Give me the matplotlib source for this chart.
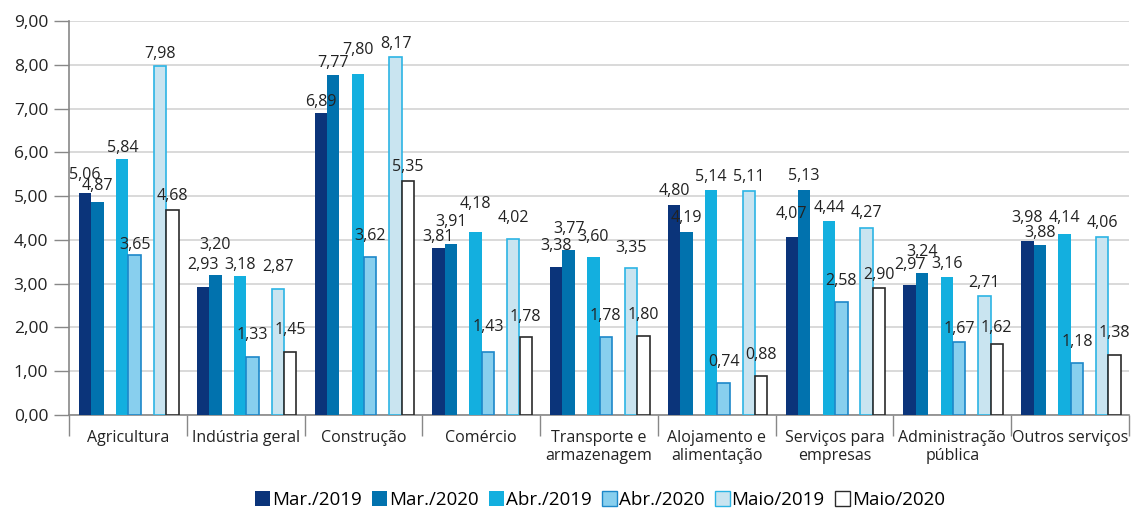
import numpy as np
import matplotlib
matplotlib.use("Agg")
import matplotlib.pyplot as plt
from matplotlib.patches import Patch

plt.rcParams['font.family'] = ['Open Sans', 'DejaVu Sans']

categories = ["Agricultura", "Indústria geral", "Construção", "Comércio",
              "Transporte e\narmazenagem", "Alojamento e\nalimentação",
              "Serviços para\nempresas", "Administração\npública", "Outros serviços"]
series = ["Mar./2019", "Mar./2020", "Abr./2019", "Abr./2020", "Maio/2019", "Maio/2020"]

mar_2019 = [5.06, 2.93, 6.89, 3.81, 3.38, 4.80, 4.07, 2.97, 3.98]
mar_2020 = [4.87, 3.20, 7.77, 3.91, 3.77, 4.19, 5.13, 3.24, 3.88]
abr_2019 = [5.84, 3.18, 7.80, 4.18, 3.60, 5.14, 4.44, 3.16, 4.14]
abr_2020 = [3.65, 1.33, 3.62, 1.43, 1.78, 0.74, 2.58, 1.67, 1.18]
maio_2019 = [7.98, 2.87, 8.17, 4.02, 3.35, 5.11, 4.27, 2.71, 4.06]
maio_2020 = [4.68, 1.45, 5.35, 1.78, 1.80, 0.88, 2.90, 1.62, 1.38]
values = [mar_2019, mar_2020, abr_2019, abr_2020, maio_2019, maio_2020]

# styling
fills = ["#0b347a", "#0172ae", "#13afdf", "#88cfee", "#c9e4f0", "#ffffff"]
edges = ["#0b347a", "#0172ae", "#13afdf", "#1d88c9", "#2cb4e4", "#2b2b2b"]
bar_w = 0.105
offsets = [-0.31 - bar_w / 2, -0.31 + bar_w / 2,
           0.005 - bar_w / 2, 0.005 + bar_w / 2,
           0.325 - bar_w / 2, 0.325 + bar_w / 2]
# vertical placement of value labels above each bar (label centre minus value)
label_lift = [
    [0.42, 0.37, 0.25, 0.23, 0.26, 0.32],
    [0.49, 0.68, 0.24, 0.50, 0.51, 0.49],
    [0.26, 0.26, 0.53, 0.47, 0.30, 0.32],
    [0.25, 0.50, 0.65, 0.58, 0.47, 0.46],
    [0.48, 0.49, 0.47, 0.48, 0.47, 0.48],
    [0.31, 0.31, 0.29, 0.48, 0.32, 0.49],
    [0.53, 0.33, 0.29, 0.48, 0.35, 0.30],
    [0.45, 0.49, 0.29, 0.29, 0.30, 0.36],
    [0.51, 0.27, 0.35, 0.49, 0.32, 0.50],
]

fig = plt.figure(figsize=(11.31, 5.09), dpi=100)
ax = fig.add_axes([69 / 1131, 1 - 415 / 509, 1060 / 1131, 394 / 509])

centers = np.arange(len(categories)) + 0.5
for s in range(len(series)):
    lw = 0 if s < 3 else 1.2
    ax.bar(centers + offsets[s], values[s], width=bar_w, color=fills[s],
           edgecolor=edges[s], linewidth=lw, zorder=3)
    for i, v in enumerate(values[s]):
        ax.text(centers[i] + offsets[s], v + label_lift[i][s],
                f"{v:.2f}".replace(".", ","), ha="center", va="center",
                fontsize=11.5, color="#222222", zorder=4)

ax.set_xlim(0, len(categories))
ax.set_ylim(0, 9)
ax.set_yticks(np.arange(0, 10, 1))
ax.set_yticklabels([f"{t:.2f}".replace(".", ",") for t in np.arange(0, 10, 1)],
                   fontsize=12.5, color="#222222")
ax.yaxis.grid(True, color="#d3d3d3", linewidth=1.2, zorder=0)
ax.tick_params(axis="y", length=11, width=1, color="#888888", pad=4)

ax.set_xticks(np.arange(0, len(categories) + 1))
ax.set_xticklabels([])
ax.set_xticks(centers, minor=True)
ax.set_xticklabels(categories, minor=True, fontsize=11.5, color="#222222",
                   linespacing=1.15)
ax.tick_params(axis="x", which="major", length=15, width=1, color="#888888")
ax.tick_params(axis="x", which="minor", length=0, pad=11)

for side in ["top", "right"]:
    ax.spines[side].set_visible(False)
for side in ["left", "bottom"]:
    ax.spines[side].set_color("#888888")
    ax.spines[side].set_linewidth(1.2)

handles = [Patch(facecolor=fills[s], edgecolor=edges[s], linewidth=1 if s >= 3 else 0)
           for s in range(len(series))]
fig.legend(handles, series, loc="center", bbox_to_anchor=(600 / 1131, 1 - 500 / 509),
           ncol=6, frameon=False, fontsize=13.5, handlelength=0.8, handleheight=0.8,
           handletextpad=0.1, columnspacing=0.55, borderaxespad=0)

fig.savefig("out.png", dpi=100)
